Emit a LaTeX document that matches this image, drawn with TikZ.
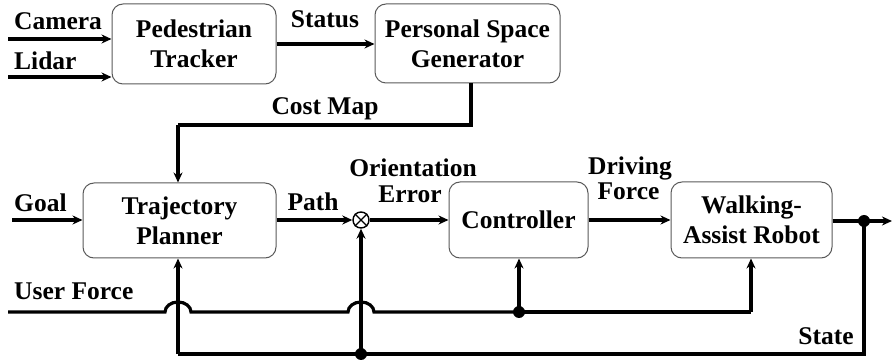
\documentclass[tikz,border=0pt]{standalone}
\usepackage{fontspec}
\setmainfont{Liberation Serif}
\usetikzlibrary{arrows.meta}
\begin{document}
\begin{tikzpicture}[x=1pt,y=-1pt,
  blk/.style={draw=black!65,line width=1pt,rounded corners=11pt,align=center,
    font=\fontsize{25.5}{30}\selectfont\bfseries,inner sep=0pt},
  lbl/.style={font=\fontsize{25.5}{30}\selectfont\bfseries,inner sep=0pt},
  wire/.style={line width=3.2pt},
  arr/.style={wire,-{Stealth[length=10pt,width=9pt]}},
  dot/.style={circle,fill=black,inner sep=0pt,minimum size=12pt}]
\useasboundingbox (0,0) rectangle (892,363);
% blocks
\node[blk,minimum width=164pt,minimum height=80pt] (ped) at (194,44) {Pedestrian\\Tracker};
\node[blk,minimum width=185pt,minimum height=79pt] (psg) at (467.5,43.5) {Personal Space\\Generator};
\node[blk,minimum width=193pt,minimum height=75pt] (tp) at (179.5,220.5) {Trajectory\\Planner};
\node[blk,minimum width=139pt,minimum height=76pt] (ctrl) at (518.5,220) {Controller};
\node[blk,minimum width=161pt,minimum height=76pt] (war) at (751.5,220) {Walking-\\Assist Robot};
\node[draw,line width=1.4pt,circle,minimum size=16pt,inner sep=0pt] (sum) at (361,220) {};
\draw[line width=1.4pt] (sum.north west) -- (sum.south east) (sum.north east) -- (sum.south west);
% coordinates
\coordinate (cam) at (8,39);
\coordinate (lid) at (8,77);
\coordinate (goal) at (12,220);
\coordinate (cm1) at (471,125);
\coordinate (cm0) at (471,83);
\coordinate (cm2) at (178,125);
\node[dot] (od) at (864,221) {};
\coordinate (out) at (892,221);
\coordinate (sb) at (864,354);
\node[dot] (fd) at (361,354) {};
\coordinate (tb) at (178,354);
\coordinate (uf) at (8,312);
\node[dot] (ud) at (519,312) {};
\coordinate (wr) at (751,312);
% labels
\node[lbl,anchor=base west] (lcam) at (14,30) {Camera};
\node[lbl,anchor=base west] (llid) at (14,70) {Lidar};
\node[lbl,anchor=base] (lst) at (325,28) {Status};
\node[lbl,anchor=base] (lcm) at (325,115) {Cost Map};
\node[lbl,anchor=base west] (lgoal) at (14,212) {Goal};
\node[lbl,anchor=base] (lpath) at (313,211) {Path};
\node[lbl,anchor=base] (lor) at (413,177) {Orientation};
\node[lbl,anchor=base] (ler) at (410,203) {Error};
\node[lbl,anchor=base] (ldr) at (630,175) {Driving};
\node[lbl,anchor=base] (lfo) at (628.5,200) {Force};
\node[lbl,anchor=base west] (luf) at (14,300) {User Force};
\node[lbl,anchor=base] (lsta) at (826,345) {State};
% connectors
\draw[arr] (cam) -- (cam -| ped.west);
\draw[arr] (lid) -- (lid -| ped.west);
\draw[arr] (ped.east) -- (ped.east -| psg.west);
\draw[wire] (cm0) -- (cm1) -- (cm2);
\draw[arr] (cm2) -- (cm2 |- tp.north);
\draw[arr] (goal) -- (goal -| tp.west);
\draw[arr] (tp.east |- sum) -- (sum.west);
\draw[arr] (sum.east) -- (sum.east -| ctrl.west);
\draw[arr] (ctrl.east) -- (ctrl.east -| war.west);
\draw[wire] (war.east |- od) -- (od.center);
\draw[arr] (od.center) -- (out);
\draw[wire] (od.center) -- (sb) -- (tb);
\draw[arr] (tb) -- (tb |- tp.south);
\draw[arr] (fd.center) -- (sum.south);
\draw[wire] (uf) -- (165,312) arc[start angle=180,end angle=0,x radius=13pt,y radius=10pt]
  -- (348,312) arc[start angle=180,end angle=0,x radius=13pt,y radius=10pt] -- (ud.center);
\draw[arr] (ud.center) -- (ud.center |- ctrl.south);
\draw[wire] (ud.center) -- (wr);
\draw[arr] (wr) -- (wr |- war.south);
\end{tikzpicture}
\end{document}
